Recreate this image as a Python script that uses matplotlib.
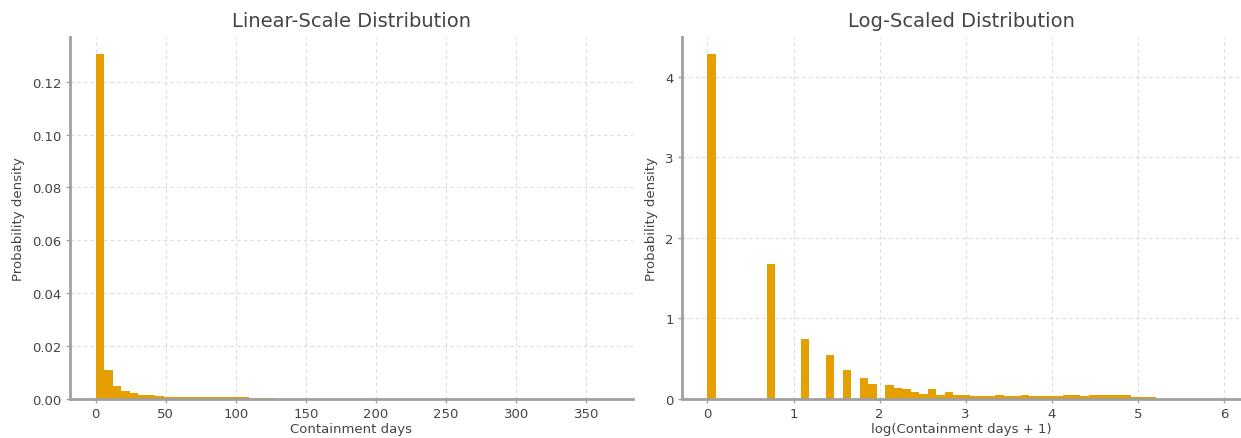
import matplotlib
matplotlib.use('Agg')
import matplotlib.pyplot as plt
import numpy as np

BAR_COLOR = '#E69F00'
SPINE_COLOR = '#a0a0a0'
TEXT_COLOR = '#444444'

# histogram heights (density), 60 equal bins each
DAYS_MAX = 365
N_BINS = 60
linear_density = [
    0.1305, 0.0111, 0.0050, 0.0031, 0.0022, 0.0016, 0.0013, 0.0011, 0.0008, 0.0007,
    0.0007, 0.0006, 0.0007, 0.0008, 0.0009, 0.0008, 0.0009, 0.0006, 0.0004, 0.0004,
    0.0003, 0.0001, 0.0001, 0.0001, 0.0001, 0.0001, 0.0001, 0.0001, 0, 0,
    0, 0, 0, 0, 0, 0, 0, 0, 0, 0,
    0, 0, 0, 0, 0, 0, 0, 0, 0, 0,
    0, 0, 0, 0, 0, 0, 0, 0, 0, 0,
]
log_density = [
    4.28, 0, 0, 0, 0, 0, 0, 1.67, 0, 0,
    0, 0.74, 0, 0, 0.54, 0, 0.36, 0, 0.26, 0.19,
    0, 0.17, 0.13, 0.12, 0.09, 0.06, 0.12, 0.05, 0.09, 0.05,
    0.045, 0.04, 0.04, 0.04, 0.045, 0.04, 0.04, 0.045, 0.04, 0.035,
    0.035, 0.04, 0.045, 0.045, 0.04, 0.045, 0.05, 0.05, 0.045, 0.045,
    0.03, 0.02, 0.02, 0, 0, 0, 0, 0, 0, 0,
]

plt.rcParams.update({
    'font.family': 'DejaVu Sans',
    'font.size': 9.5,
    'text.color': TEXT_COLOR,
    'axes.labelcolor': TEXT_COLOR,
    'xtick.color': SPINE_COLOR,
    'ytick.color': SPINE_COLOR,
    'xtick.labelcolor': TEXT_COLOR,
    'ytick.labelcolor': TEXT_COLOR,
})


def style_axes(ax):
    for side in ('top', 'right'):
        ax.spines[side].set_visible(False)
    for side in ('left', 'bottom'):
        ax.spines[side].set_color(SPINE_COLOR)
        ax.spines[side].set_linewidth(2)
    ax.grid(True, linestyle=(0, (3, 3)), color='#dcdcdc', linewidth=0.8)
    ax.set_axisbelow(True)
    ax.tick_params(length=3, width=1, pad=3)


def draw_hist(ax, edges, heights):
    edges = np.asarray(edges)
    ax.bar(edges[:-1], heights, width=np.diff(edges), align='edge',
           color=BAR_COLOR, linewidth=0)
    lo, hi = edges[0], edges[-1]
    pad = 0.05 * (hi - lo)
    ax.set_xlim(lo - pad, hi + pad)


fig = plt.figure(figsize=(12.41, 4.39), dpi=100)
ax1 = fig.add_axes([0.0564, 0.089, 0.4536, 0.825])
ax2 = fig.add_axes([0.5496, 0.089, 0.4504, 0.825])

lin_edges = np.linspace(0, DAYS_MAX, N_BINS + 1)
draw_hist(ax1, lin_edges, linear_density)
ax1.set_title("Linear-Scale Distribution", fontsize=14, color=TEXT_COLOR, pad=8)
ax1.set_xlabel("Containment days", labelpad=1)
ax1.set_ylabel("Probability density", labelpad=5)
ax1.set_xticks([0, 50, 100, 150, 200, 250, 300, 350])
style_axes(ax1)

log_edges = np.linspace(0, np.log(DAYS_MAX + 1), N_BINS + 1)
draw_hist(ax2, log_edges, log_density)
ax2.set_title("Log-Scaled Distribution", fontsize=14, color=TEXT_COLOR, pad=8)
ax2.set_xlabel("log(Containment days + 1)", labelpad=1)
ax2.set_ylabel("Probability density", labelpad=5)
ax2.set_yticks([0, 1, 2, 3, 4])
style_axes(ax2)

fig.savefig("out.png", dpi=100)
